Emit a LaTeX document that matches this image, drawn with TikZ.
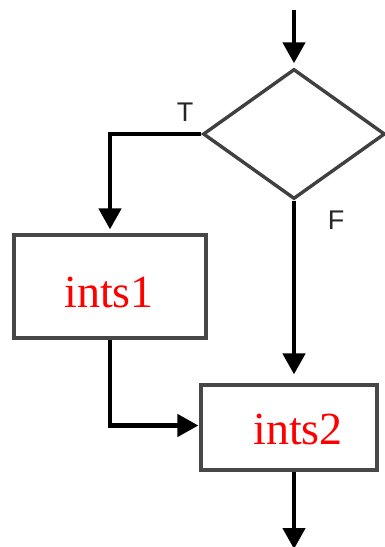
\documentclass[tikz,border=0pt]{standalone}
\usepackage{fontspec}
\setmainfont{Liberation Serif}
\newfontfamily\lblfont{Liberation Sans}
\usetikzlibrary{arrows.meta,shapes.geometric}
\tikzset{
  conn/.style={draw=black,line width=4.5pt,-{Triangle[length=21pt,width=22pt]},shorten >=4pt},
  procbox/.style={draw=black!72,line width=3.2pt,rectangle,inner sep=0pt,fill=white},
  decbox/.style={draw=black!75,line width=3.4pt,diamond,inner sep=0pt,aspect=1.4,minimum width=182pt,minimum height=130pt},
  boxtext/.style={text=red,font=\fontsize{46}{52}\selectfont,inner sep=0pt},
  branchlbl/.style={text=black!85,font=\lblfont\fontsize{27}{30}\selectfont,inner sep=0pt}
}
\begin{document}
\begin{tikzpicture}[x=1pt,y=-1pt]
\useasboundingbox (0,0) rectangle (384,547);
\fill[white] (0,0) rectangle (384,547);
\node[decbox] (d) at (294,134) {};
\node[procbox,minimum width=192pt,minimum height=103pt] (b1) at (110,286.5) {};
\node[procbox,minimum width=176pt,minimum height=85pt] (b2) at (289,427.5) {};
\node[boxtext] (t1) at (109,292) {ints1};
\node[boxtext] (t2) at (298,429) {ints2};
\node[branchlbl] (lt) at (185,112) {T};
\node[branchlbl] (lf) at (336,220) {F};
\coordinate (start) at (294,10);
\coordinate (finish) at (294,549);
\draw[conn] (start) -- (d.north);
\draw[conn] (d.west) -| (b1.north);
\draw[conn,shorten >=9pt] (d.south) -- (d.south |- b2.north);
\draw[conn,shorten >=1pt] (b1.south) |- ([yshift=2pt]b2.west);
\draw[conn,shorten >=0pt] (d.south |- b2.south) -- (finish);
\end{tikzpicture}
\end{document}
